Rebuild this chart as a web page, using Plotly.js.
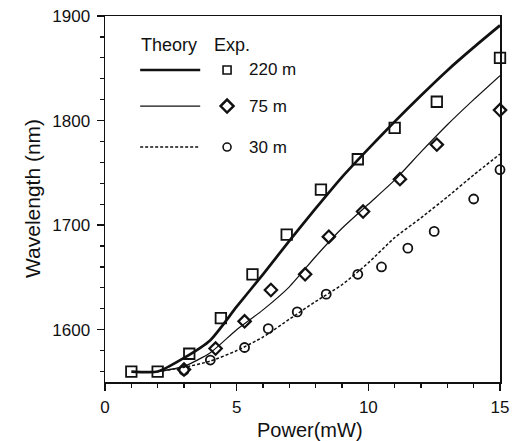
<!DOCTYPE html>
<html>
<head>
<meta charset="utf-8">
<script src="https://cdn.plot.ly/plotly-3.0.1.min.js"></script>
<style>
html,body{margin:0;padding:0;background:#fff;}
#chart{width:517px;height:441px;}
</style>
</head>
<body>
<div id="chart"></div>
<script>
// Experimental data
const power220 = [1, 2, 3.2, 4.4, 5.6, 6.9, 8.2, 9.6, 11.0, 12.6, 15];
const wl220    = [1560, 1560, 1577, 1611, 1653, 1691, 1734, 1763, 1793, 1818, 1860];
const power75  = [3.0, 4.2, 5.3, 6.3, 7.6, 8.5, 9.8, 11.2, 12.6, 15];
const wl75     = [1562, 1582, 1608, 1638, 1653, 1689, 1713, 1744, 1777, 1810];
const power30  = [3.0, 4.0, 5.3, 6.2, 7.3, 8.4, 9.6, 10.5, 11.5, 12.5, 14.0, 15];
const wl30     = [1561, 1571, 1583, 1601, 1617, 1634, 1653, 1660, 1678, 1694, 1725, 1753];

// Theory curves
const theoryPower220 = [1, 2, 3, 4, 5, 6, 7, 8, 9, 10, 11, 12, 13, 14, 15];
const theory220      = [1560, 1560, 1573, 1590, 1622, 1653, 1685, 1716, 1746, 1773, 1799, 1824, 1848, 1870, 1891];
const theoryPower75  = [2, 3, 4, 5, 6, 7, 8, 9, 10, 11, 12, 13, 14, 15];
const theory75       = [1560, 1565, 1578, 1600, 1619, 1641, 1670, 1697, 1720, 1743, 1770, 1796, 1820, 1843];
const theoryPower30  = [2, 3, 4, 5, 6, 7, 8, 9, 10, 11, 12, 13, 14, 15];
const theory30       = [1560, 1564, 1570, 1580, 1593, 1610, 1627, 1643, 1664, 1688, 1707, 1727, 1748, 1768];

// Legend labels
const legendHeader = ["Theory", "Exp."];
const legendLabels = ["220 m", "75 m", "30 m"];

const FONT = "'Liberation Sans', Arial, Helvetica, sans-serif";
const INK = "#111";

const lineStyles = [
  {color: INK, width: 2.7},
  {color: INK, width: 1.2},
  {color: INK, width: 1.5, dash: "3px,2px"}
];
const markerStyles = [
  {symbol: "square-open", size: 10.5, color: INK, line: {width: 1.8, color: INK}},
  {symbol: "diamond-open", size: 9.5, color: INK, line: {width: 2.2, color: INK}},
  {symbol: "circle-open", size: 9, color: INK, line: {width: 1.8, color: INK}}
];
const legendMarkerStyles = [
  {symbol: "square-open", size: 8, color: INK, line: {width: 1.6, color: INK}},
  {symbol: "diamond-open", size: 10, color: INK, line: {width: 2.4, color: INK}},
  {symbol: "circle-open", size: 8, color: INK, line: {width: 1.6, color: INK}}
];

const theoryX = [theoryPower220, theoryPower75, theoryPower30];
const theoryY = [theory220, theory75, theory30];
const expX = [power220, power75, power30];
const expY = [wl220, wl75, wl30];

const traces = [];
for (let i = 0; i < 3; i++) {
  traces.push({
    x: theoryX[i], y: theoryY[i], mode: "lines", type: "scatter",
    line: Object.assign({shape: "spline", smoothing: 0.6}, lineStyles[i]),
    showlegend: false, hoverinfo: "skip"
  });
}
for (let i = 0; i < 3; i++) {
  traces.push({
    x: expX[i], y: expY[i], mode: "markers", type: "scatter",
    marker: markerStyles[i], cliponaxis: false,
    showlegend: false, hoverinfo: "skip"
  });
}

// Legend drawn on an overlay axis pair spanning the plot area [0,1]x[0,1]
const legLineX = [0.089, 0.241];
const legRowY = [0.8525, 0.754, 0.642];
const legMarkX = 0.309;
for (let i = 0; i < 3; i++) {
  traces.push({
    x: legLineX, y: [legRowY[i], legRowY[i]], xaxis: "x2", yaxis: "y2",
    mode: "lines", type: "scatter", line: lineStyles[i],
    showlegend: false, hoverinfo: "skip"
  });
  traces.push({
    x: [legMarkX], y: [legRowY[i]], xaxis: "x2", yaxis: "y2",
    mode: "markers", type: "scatter", marker: legendMarkerStyles[i],
    showlegend: false, hoverinfo: "skip"
  });
}

const annotations = [
  {text: legendHeader[0], x: 0.086, y: 0.921, xref: "paper", yref: "paper", xanchor: "left", yanchor: "middle", showarrow: false, font: {family: FONT, size: 18, color: INK}},
  {text: legendHeader[1], x: 0.27, y: 0.921, xref: "paper", yref: "paper", xanchor: "left", yanchor: "middle", showarrow: false, font: {family: FONT, size: 18, color: INK}},
  {text: "Power(mW)", x: 0.52, y: 0, xref: "paper", yref: "paper", xanchor: "center", yanchor: "middle", yshift: -48, showarrow: false, font: {family: FONT, size: 20, color: INK}},
  {text: "Wavelength (nm)", x: 0, y: 0.5, xref: "paper", yref: "paper", xanchor: "center", yanchor: "middle", xshift: -73, textangle: -90, showarrow: false, font: {family: FONT, size: 21, color: INK}}
];
for (let i = 0; i < 3; i++) {
  annotations.push({text: legendLabels[i], x: 0.36, y: legRowY[i], xref: "paper", yref: "paper", xanchor: "left", yanchor: "middle", showarrow: false, font: {family: FONT, size: 17, color: INK}});
}

const layout = {
  width: 517, height: 441,
  margin: {l: 105, r: 17, t: 16, b: 59, pad: 0},
  paper_bgcolor: "#fff", plot_bgcolor: "#fff",
  font: {family: FONT, size: 17, color: INK},
  showlegend: false,
  xaxis: {
    range: [0, 15], tickvals: [0, 5, 10, 15], ticktext: ["0", "5", "10", "15"],
    ticks: "outside", ticklen: 7, tickwidth: 1.5, tickcolor: INK,
    minor: {dtick: 1, ticks: "outside", ticklen: 4, tickwidth: 1.2, tickcolor: INK},
    showline: true, linecolor: INK, linewidth: 1.5, mirror: true,
    showgrid: false, zeroline: false, tickfont: {family: FONT, size: 17, color: INK},
    ticklabelstandoff: 2
  },
  yaxis: {
    range: [1550, 1900], tickvals: [1600, 1700, 1800, 1900], ticktext: ["1600", "1700", "1800", "1900"],
    ticks: "outside", ticklen: 7, tickwidth: 1.5, tickcolor: INK,
    minor: {dtick: 20, tick0: 1500, ticks: "outside", ticklen: 4, tickwidth: 1.2, tickcolor: INK},
    showline: true, linecolor: INK, linewidth: 1.5, mirror: true,
    showgrid: false, zeroline: false, tickfont: {family: FONT, size: 17, color: INK},
    ticklabelstandoff: 3
  },
  xaxis2: {overlaying: "x", range: [0, 1], visible: false, fixedrange: true},
  yaxis2: {overlaying: "y", range: [0, 1], visible: false, fixedrange: true},
  annotations: annotations
};

Plotly.newPlot("chart", traces, layout, {staticPlot: true, displayModeBar: false});
</script>
</body>
</html>
